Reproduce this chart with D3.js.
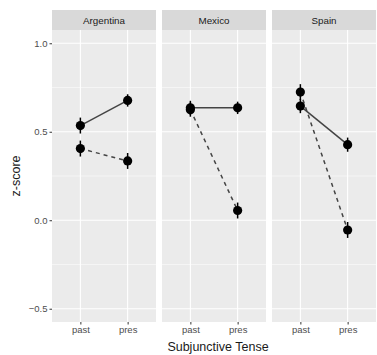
<!DOCTYPE html>
<html>
<head>
<meta charset="utf-8">
<script src="https://cdn.jsdelivr.net/npm/d3@7"></script>
<style>
  body { margin: 0; background: #fff; }
  text { font-family: "Liberation Sans", Arial, sans-serif; }
</style>
</head>
<body>
<div id="viz"></div>
<script>
'use strict';

const width = 377;
const height = 355;

// data
const countries = ["Argentina", "Mexico", "Spain"];
const tenses = ["past", "pres"];
const solidVals = [[0.535, 0.677], [0.635, 0.635], [0.645, 0.427]];
const dashedVals = [[0.405, 0.335], [0.625, 0.055], [0.724, -0.055]];
const solidErr = [[0.045, 0.035], [0.04, 0.035], [0.04, 0.04]];
const dashedErr = [[0.045, 0.045], [0.04, 0.045], [0.045, 0.045]];
const yTicks = [-0.5, 0.0, 0.5, 1.0];
const yMinor = [-0.25, 0.25, 0.75];

const margin = {top: 10, left: 52, right: 1, bottom: 33};
const stripH = 20;
const gap = 6;
const panelW = (width - margin.left - margin.right - gap * 2) / 3;

const svg = d3.select("#viz")
    .append("svg")
    .attr("width", width)
    .attr("height", height);

let y = d3.scaleLinear()
    .domain([-0.575, 1.075])
    .range([height - margin.bottom, margin.top + stripH]);

let x = d3.scalePoint()
    .domain(tenses)
    .range([0, panelW])
    .padding(0.6);

let line = d3.line()
    .x(d => x(d.t))
    .y(d => y(d.v));

countries.forEach((c, i) => {
    let g = svg.append("g")
        .attr("transform", "translate(" + (margin.left + i * (panelW + gap)) + ",0)");

    // strip
    g.append("rect")
        .attr("x", 0).attr("y", margin.top)
        .attr("width", panelW).attr("height", stripH)
        .attr("fill", "#d9d9d9");
    g.append("text")
        .attr("x", panelW / 2).attr("y", margin.top + stripH / 2 + 3.5)
        .attr("text-anchor", "middle")
        .attr("font-size", 9.8)
        .attr("fill", "#1a1a1a")
        .text(c);

    // panel
    g.append("rect")
        .attr("x", 0).attr("y", y.range()[1])
        .attr("width", panelW).attr("height", y.range()[0] - y.range()[1])
        .attr("fill", "#ebebeb");

    g.selectAll(".minor")
        .data(yMinor)
        .enter()
        .append("line")
        .attr("x1", 0).attr("x2", panelW)
        .attr("y1", d => y(d)).attr("y2", d => y(d))
        .attr("stroke", "#fff").attr("stroke-width", 0.5);
    g.selectAll(".major")
        .data(yTicks)
        .enter()
        .append("line")
        .attr("x1", 0).attr("x2", panelW)
        .attr("y1", d => y(d)).attr("y2", d => y(d))
        .attr("stroke", "#fff").attr("stroke-width", 1.1);
    g.selectAll(".vgrid")
        .data(tenses)
        .enter()
        .append("line")
        .attr("x1", d => x(d)).attr("x2", d => x(d))
        .attr("y1", y.range()[1]).attr("y2", y.range()[0])
        .attr("stroke", "#fff").attr("stroke-width", 1.1);

    // x axis
    let xAxis = g.append("g")
        .attr("transform", "translate(0," + y.range()[0] + ")")
        .call(d3.axisBottom(x).tickSize(2.5).tickPadding(2));
    xAxis.select(".domain").remove();
    xAxis.selectAll("line").attr("stroke", "#333");
    xAxis.selectAll("text")
        .attr("font-size", 9.5)
        .attr("fill", "#4d4d4d")
        .style("font-family", "Liberation Sans, Arial, sans-serif");

    let solid = tenses.map((t, j) => ({t: t, v: solidVals[i][j], e: solidErr[i][j]}));
    let dashed = tenses.map((t, j) => ({t: t, v: dashedVals[i][j], e: dashedErr[i][j]}));

    g.append("path")
        .attr("d", line(dashed))
        .attr("fill", "none")
        .attr("stroke", "#444")
        .attr("stroke-width", 1.5)
        .attr("stroke-dasharray", "4,4");
    g.append("path")
        .attr("d", line(solid))
        .attr("fill", "none")
        .attr("stroke", "#444")
        .attr("stroke-width", 1.5);

    let pts = dashed.concat(solid);
    g.selectAll(".err")
        .data(pts)
        .enter()
        .append("line")
        .attr("x1", d => x(d.t)).attr("x2", d => x(d.t))
        .attr("y1", d => y(d.v - d.e)).attr("y2", d => y(d.v + d.e))
        .attr("stroke", "#000").attr("stroke-width", 1.5);
    g.selectAll(".pt")
        .data(pts)
        .enter()
        .append("circle")
        .attr("cx", d => x(d.t))
        .attr("cy", d => y(d.v))
        .attr("r", 4.6)
        .attr("fill", "#000");
});

// y axis on the first panel
let yAxis = svg.append("g")
    .attr("transform", "translate(" + margin.left + ",0)")
    .call(d3.axisLeft(y).tickValues(yTicks).tickFormat(d3.format(".1f")).tickSize(2.5).tickPadding(2));
yAxis.select(".domain").remove();
yAxis.selectAll("line").attr("stroke", "#333");
yAxis.selectAll("text")
    .attr("font-size", 9.5)
    .attr("fill", "#4d4d4d")
    .style("font-family", "Liberation Sans, Arial, sans-serif");

svg.append("text")
    .attr("transform", "translate(20," + (y.range()[1] + y.range()[0]) / 2 + ") rotate(-90)")
    .attr("text-anchor", "middle")
    .attr("font-size", 12.5)
    .attr("fill", "#1a1a1a")
    .text("z-score");

svg.append("text")
    .attr("x", 218)
    .attr("y", height - 4)
    .attr("text-anchor", "middle")
    .attr("font-size", 12.5)
    .attr("fill", "#1a1a1a")
    .text("Subjunctive Tense");
</script>
</body>
</html>
